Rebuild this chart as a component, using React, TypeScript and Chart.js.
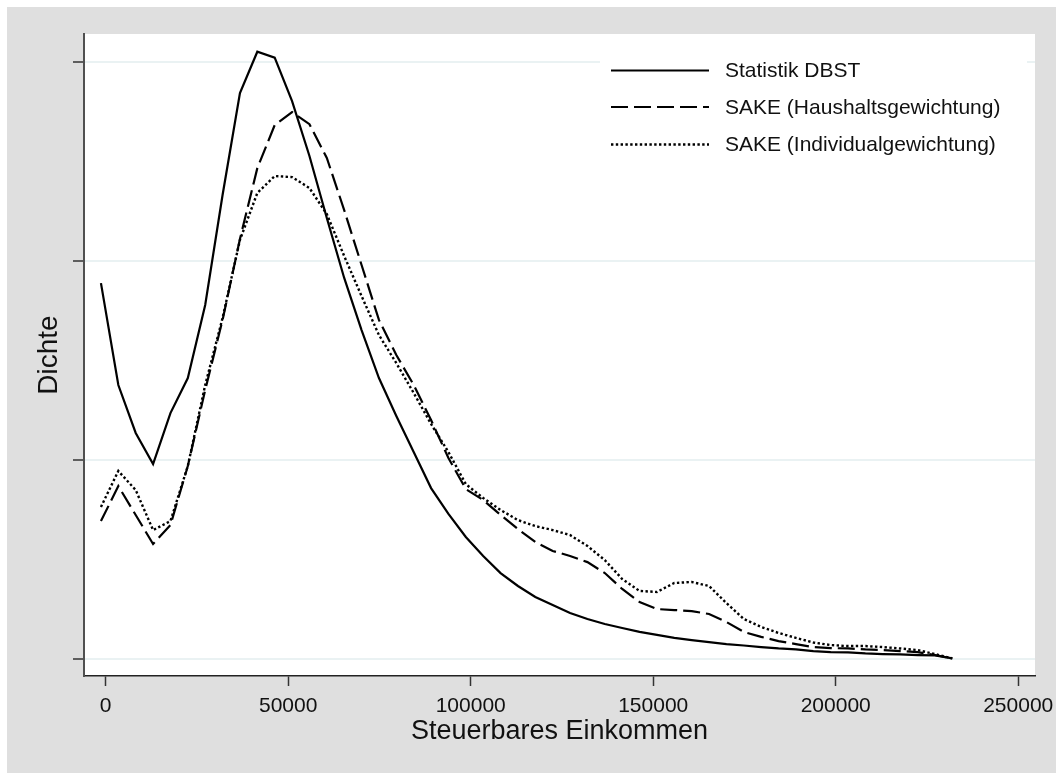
import React, { useEffect, useRef } from "react";
import { Chart, registerables } from "chart.js";

Chart.register(...registerables);

// Income grid (x) of the kernel density estimates
const incomeGrid = [
  -1300, 3460, 8220, 12980, 17740, 22500, 27260, 32020, 36780, 41540,
  46300, 51060, 55820, 60580, 65340, 70100, 74860, 79620, 84380, 89140,
  93900, 98660, 103420, 108180, 112940, 117700, 122460, 127220, 131980, 136740,
  141500, 146260, 151020, 155780, 160540, 165300, 170060, 174820, 179580, 184340,
  189100, 193860, 198620, 203380, 208140, 212900, 217660, 222420, 227180, 231940,
];

// Density values (relative units, one unit per y tick)
const dbst = [
  1.889, 1.377, 1.136, 0.98, 1.236, 1.412, 1.779, 2.332, 2.844, 3.052,
  3.022, 2.804, 2.528, 2.216, 1.915, 1.653, 1.412, 1.221, 1.04, 0.859,
  0.729, 0.613, 0.518, 0.432, 0.367, 0.312, 0.271, 0.231, 0.201, 0.176,
  0.156, 0.136, 0.121, 0.106, 0.095, 0.085, 0.075, 0.068, 0.06, 0.053,
  0.048, 0.04, 0.035, 0.033, 0.028, 0.025, 0.023, 0.02, 0.018, 0.003,
];

const sakeHaushalt = [
  0.693, 0.869, 0.724, 0.578, 0.673, 0.97, 1.352, 1.704, 2.111, 2.467,
  2.683, 2.749, 2.688, 2.518, 2.256, 1.98, 1.704, 1.528, 1.377, 1.201,
  1.01, 0.854, 0.799, 0.724, 0.653, 0.588, 0.543, 0.518, 0.487, 0.432,
  0.352, 0.286, 0.251, 0.246, 0.241, 0.226, 0.186, 0.136, 0.111, 0.09,
  0.075, 0.06, 0.055, 0.053, 0.048, 0.045, 0.04, 0.035, 0.02, 0.003,
];

const sakeIndividual = [
  0.764, 0.945, 0.849, 0.648, 0.693, 0.97, 1.377, 1.714, 2.106, 2.342,
  2.427, 2.422, 2.367, 2.236, 2.025, 1.824, 1.628, 1.487, 1.337, 1.181,
  1.04, 0.879, 0.809, 0.749, 0.698, 0.668, 0.648, 0.623, 0.568, 0.497,
  0.402, 0.342, 0.337, 0.382, 0.387, 0.367, 0.281, 0.201, 0.161, 0.131,
  0.106, 0.083, 0.07, 0.065, 0.065, 0.06, 0.053, 0.045, 0.025, 0.003,
];

const seriesLabels = [
  "Statistik DBST",
  "SAKE (Haushaltsgewichtung)",
  "SAKE (Individualgewichtung)",
];

const xTicks = [0, 50000, 100000, 150000, 200000, 250000];
const yTicks = [0, 1, 2, 3];
const xTitle = "Steuerbares Einkommen";
const yTitle = "Dichte";

const FONT = "'Liberation Sans', Arial, Helvetica, sans-serif";

const plotBg = {
  id: "plotBg",
  beforeDraw(chart: any) {
    const { ctx, chartArea } = chart;
    ctx.save();
    ctx.fillStyle = "#ffffff";
    ctx.fillRect(
      chartArea.left,
      chartArea.top,
      chartArea.right - chartArea.left,
      chartArea.bottom - chartArea.top
    );
    ctx.restore();
  },
};

const insideLegend = {
  id: "insideLegend",
  afterDatasetsDraw(chart: any) {
    const { ctx, chartArea } = chart;
    const left = chartArea.left + 516;
    const right = chartArea.right - 8;
    const top = chartArea.top + 11;
    const bottom = chartArea.top + 131;
    ctx.save();
    ctx.fillStyle = "#ffffff";
    ctx.fillRect(left, top, right - left, bottom - top);
    const rows = [36.5, 73, 110.5];
    chart.data.datasets.forEach((ds: any, i: number) => {
      const y = chartArea.top + rows[i];
      ctx.beginPath();
      ctx.setLineDash(ds.borderDash || []);
      ctx.lineWidth = ds.borderWidth;
      ctx.strokeStyle = ds.borderColor;
      ctx.lineCap = "butt";
      ctx.moveTo(left + 11, y);
      ctx.lineTo(left + 109, y);
      ctx.stroke();
      ctx.setLineDash([]);
      ctx.fillStyle = "#111111";
      ctx.font = `21px ${FONT}`;
      ctx.textBaseline = "middle";
      ctx.textAlign = "left";
      ctx.fillText(ds.label, left + 125, y + 1);
    });
    ctx.restore();
  },
};

function toPoints(values: number[]) {
  return values.map((v, i) => ({ x: incomeGrid[i], y: v }));
}

export default function App() {
  const canvasRef = useRef<HTMLCanvasElement | null>(null);

  useEffect(() => {
    const canvas = canvasRef.current;
    if (!canvas) return;
    const chart = new Chart(canvas, {
      type: "line",
      data: {
        datasets: [
          {
            label: seriesLabels[0],
            data: toPoints(dbst),
            borderColor: "#000000",
            borderWidth: 2.2,
            pointRadius: 0,
            tension: 0,
            fill: false,
          },
          {
            label: seriesLabels[1],
            data: toPoints(sakeHaushalt),
            borderColor: "#000000",
            borderWidth: 2.2,
            borderDash: [17, 6],
            pointRadius: 0,
            tension: 0,
            fill: false,
          },
          {
            label: seriesLabels[2],
            data: toPoints(sakeIndividual),
            borderColor: "#000000",
            borderWidth: 2.4,
            borderDash: [2.4, 2.4],
            pointRadius: 0,
            tension: 0,
            fill: false,
          },
        ],
      },
      options: {
        responsive: false,
        animation: false,
        layout: { padding: { left: 0, top: 27, right: 21, bottom: 0 } },
        plugins: {
          legend: { display: false },
          tooltip: { enabled: false },
        },
        scales: {
          x: {
            type: "linear",
            min: -5945,
            max: 254600,
            afterBuildTicks: (scale: any) => {
              scale.ticks = xTicks.map((v) => ({ value: v }));
            },
            afterFit: (scale: any) => {
              scale.height = 97;
              scale.paddingLeft = 0;
              scale.paddingRight = 0;
            },
            grid: {
              drawOnChartArea: false,
              drawTicks: true,
              tickLength: 10,
              tickColor: "#333333",
              tickWidth: 1.5,
            },
            border: { display: true, color: "#222222", width: 1.5 },
            ticks: {
              padding: 8,
              maxRotation: 0,
              autoSkip: false,
              color: "#111111",
              font: { family: FONT, size: 21 },
              callback: (v: any) => String(v),
            },
            title: {
              display: true,
              text: xTitle,
              color: "#111111",
              font: { family: FONT, size: 27 },
              padding: { top: 0, bottom: 25 },
            },
          },
          y: {
            type: "linear",
            min: -0.0854,
            max: 3.141,
            afterBuildTicks: (scale: any) => {
              scale.ticks = yTicks.map((v) => ({ value: v }));
            },
            afterFit: (scale: any) => {
              scale.width = 77;
              scale.paddingTop = 0;
              scale.paddingBottom = 0;
            },
            grid: {
              drawOnChartArea: true,
              color: "#eaf2f3",
              lineWidth: 2,
              drawTicks: true,
              tickLength: 11,
              tickColor: "#333333",
              tickWidth: 1.5,
            },
            border: { display: true, color: "#505050", width: 2 },
            ticks: { display: false },
            title: {
              display: true,
              text: yTitle,
              color: "#111111",
              font: { family: FONT, size: 28 },
              padding: { top: 25, bottom: 0 },
            },
          },
        },
      },
      plugins: [plotBg, insideLegend],
    } as any);
    return () => chart.destroy();
  }, []);

  return (
    <div
      style={{
        position: "fixed",
        left: 7,
        top: 7,
        width: 1049,
        height: 766,
        background: "rgb(223,223,223)",
      }}
    >
      <canvas
        ref={canvasRef}
        width={1049}
        height={766}
        style={{ display: "block", width: 1049, height: 766 }}
      />
    </div>
  );
}
